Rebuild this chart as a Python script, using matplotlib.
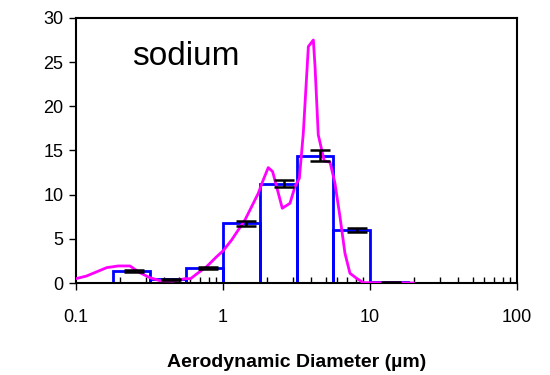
import matplotlib.pyplot as plt

plt.rcParams['font.family'] = ['Liberation Sans', 'DejaVu Sans']

# impactor stage cut sizes (um) and sodium mass per stage
bin_edges = [0.1, 0.18, 0.32, 0.56, 1.0, 1.8, 3.2, 5.6, 10, 18]
sodium = [0.0, 1.4, 0.4, 1.7, 6.75, 11.25, 14.4, 6.0, 0.1]

# replicate error bars
err_x = [0.25, 0.44, 0.79, 1.43, 2.6, 4.55, 8.2, 14]
err_y = [1.4, 0.4, 1.7, 6.75, 11.25, 14.4, 6.0, 0.1]
err_sd = [0.1, 0.05, 0.12, 0.3, 0.4, 0.65, 0.28, 0.05]

# inverted size distribution
fit_d = [0.1, 0.118, 0.162, 0.194, 0.233, 0.272, 0.319, 0.373, 0.459, 0.551,
         0.603, 0.662, 0.774, 0.906, 1.005, 1.146, 1.271, 1.412, 1.567, 1.739,
         1.88, 2.033, 2.177, 2.317, 2.533, 2.857, 3.09, 3.31, 3.52, 3.81,
         4.12, 4.23, 4.45, 4.89, 5.35, 5.78, 6.25, 6.76, 7.31, 8.11,
         9.01, 19.7]
fit_val = [0.49, 0.79, 1.74, 1.93, 1.93, 1.17, 0.6, 0.26, 0.23, 0.49,
           0.49, 1.02, 1.85, 2.98, 3.66, 4.87, 6.0, 7.13, 8.64, 10.15,
           11.66, 13.06, 12.61, 10.91, 8.46, 9.02, 10.91, 11.85, 16.95, 26.76,
           27.5, 24.5, 16.76, 13.8, 13.67, 11.29, 7.51, 3.36, 1.1, 0.53,
           0.04, 0.0]

fig = plt.figure(figsize=(5.5, 3.75), dpi=100)
ax = fig.add_axes([0.138, 0.2453, 0.802, 0.707])

lefts = bin_edges[:-1]
widths = [b - a for a, b in zip(bin_edges[:-1], bin_edges[1:])]
ax.bar(lefts, sodium, width=widths, align='edge', fill=False,
       edgecolor='#0000ff', linewidth=2, zorder=2)
ax.plot(fit_d, fit_val, color='#ff00ff', linewidth=2, zorder=3)
ax.errorbar(err_x, err_y, yerr=err_sd, fmt='none', ecolor='black',
            elinewidth=1.8, capsize=7, capthick=1.8, zorder=4)

ax.set_xscale('log')
ax.set_xlim(0.1, 100)
ax.set_ylim(0, 30)
ax.set_yticks(range(0, 31, 5))
ax.set_xticks([0.1, 1, 10, 100])
ax.set_xticklabels(['0.1', '1', '10', '100'])
ax.tick_params(axis='y', direction='out', length=5, width=1, labelsize=13, pad=4)
ax.tick_params(axis='x', which='major', direction='out', length=5, width=1,
               labelsize=13, pad=14)
ax.tick_params(axis='x', which='minor', direction='in', length=4, width=1)
for s in ax.spines.values():
    s.set_linewidth(1.5)

ax.text(0.128, 0.823, 'sodium', transform=ax.transAxes, fontsize=24)
ax.set_xlabel('Aerodynamic Diameter (µm)', fontsize=14, fontweight='bold',
              labelpad=20)

fig.savefig('out.png', dpi=100)
